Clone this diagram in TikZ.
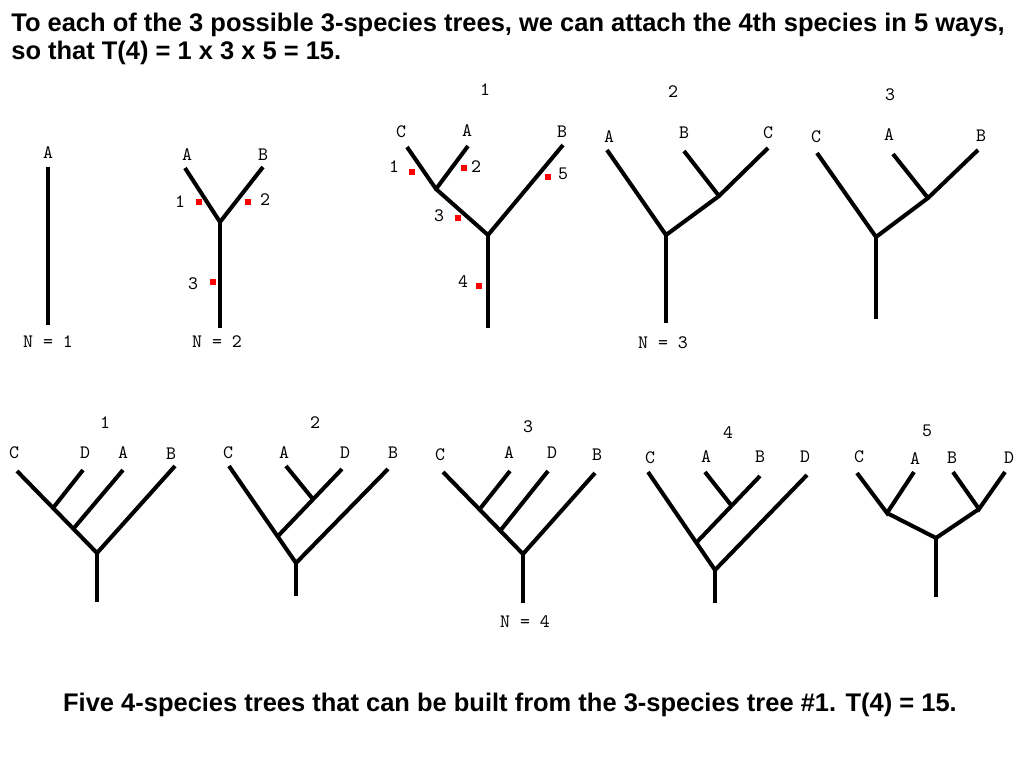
\documentclass[tikz,border=0pt]{standalone}
\usepackage{fontspec}
\setmainfont{Liberation Sans}
\usetikzlibrary{positioning}

\begin{document}
\begin{tikzpicture}[
  x=0.02cm, y=-0.02cm,
  branch/.style={line width=2.3pt},
  taxon/.style={font=\ttfamily\fontsize{10.8}{12}\selectfont, inner sep=0pt},
  spot/.style={fill=red, inner sep=0pt, minimum size=0.12cm},
  headline/.style={font=\bfseries\fontsize{14.5}{15.6}\selectfont, align=left, inner sep=0pt}
]
\useasboundingbox (0,0) rectangle (1024,768);

% heading and caption
\node[headline, anchor=north west] (head) at (11,13)
  {To each of the 3 possible 3-species trees, we can attach the 4th species in 5 ways,\\so that T(4) = 1 x 3 x 5 = 15.};
\node[headline] (foot) at (510,705)
  {Five 4-species trees that can be built from the 3-species tree \#1. T(4) = 15.};

% N = 1
\coordinate (a-A) at (48,167);
\coordinate (a-bot) at (48,325);
\node[taxon] (a-lA) at (48,153) {A};
\node[taxon] (a-n) at (48,342) {N = 1};
\draw[branch] (a-A) -- (a-bot);

% N = 2
\coordinate (b-A) at (185,168);
\coordinate (b-B) at (263,167);
\coordinate (b-root) at (220,222);
\coordinate (b-bot) at (220,328);
\node[taxon] (b-lA) at (187,155) {A};
\node[taxon] (b-lB) at (263,155) {B};
\node[taxon] (b-n) at (217,342) {N = 2};
\draw[branch] (b-A) -- (b-root) -- (b-B);
\draw[branch] (b-root) -- (b-bot);
\node[spot] (b-s1) at (199,202) {};
\node[spot] (b-s2) at (248,202) {};
\node[spot] (b-s3) at (213,282) {};
\node[taxon] (b-t1) at (180,202) {1};
\node[taxon] (b-t2) at (265,200) {2};
\node[taxon] (b-t3) at (193,284) {3};

% three-species tree 1
\node[taxon] (c-num) at (485,90) {1};
\coordinate (c-C) at (407,147);
\coordinate (c-A) at (468,146);
\coordinate (c-B) at (563,145);
\coordinate (c-j) at (436,189);
\coordinate (c-root) at (488,235);
\coordinate (c-bot) at (488,328);
\node[taxon] (c-lC) at (401,132) {C};
\node[taxon] (c-lA) at (467,131) {A};
\node[taxon] (c-lB) at (562,132) {B};
\draw[branch] (c-C) -- (c-j) -- (c-root) -- (c-B);
\draw[branch] (c-A) -- (c-j);
\draw[branch] (c-root) -- (c-bot);
\node[spot] (c-s1) at (412,172) {};
\node[spot] (c-s2) at (464,168) {};
\node[spot] (c-s3) at (458,218) {};
\node[spot] (c-s4) at (479,286) {};
\node[spot] (c-s5) at (548,177) {};
\node[taxon] (c-t1) at (394,167) {1};
\node[taxon] (c-t2) at (476,167) {2};
\node[taxon] (c-t3) at (439,216) {3};
\node[taxon] (c-t4) at (463,282) {4};
\node[taxon] (c-t5) at (563,174) {5};

% three-species tree 2
\node[taxon] (d-num) at (673,92) {2};
\coordinate (d-A) at (607,150);
\coordinate (d-B) at (684,151);
\coordinate (d-C) at (768,148);
\coordinate (d-j) at (719,196);
\coordinate (d-root) at (666,235);
\coordinate (d-bot) at (666,323);
\node[taxon] (d-lA) at (609,137) {A};
\node[taxon] (d-lB) at (684,133) {B};
\node[taxon] (d-lC) at (768,133) {C};
\node[taxon] (d-n) at (663,343) {N = 3};
\draw[branch] (d-A) -- (d-root) -- (d-j) -- (d-C);
\draw[branch] (d-B) -- (d-j);
\draw[branch] (d-root) -- (d-bot);

% three-species tree 3
\node[taxon] (e-num) at (890,95) {3};
\coordinate (e-C) at (817,153);
\coordinate (e-A) at (893,154);
\coordinate (e-B) at (978,150);
\coordinate (e-j) at (928,198);
\coordinate (e-root) at (876,237);
\coordinate (e-bot) at (876,319);
\node[taxon] (e-lC) at (816,137) {C};
\node[taxon] (e-lA) at (889,135) {A};
\node[taxon] (e-lB) at (981,136) {B};
\draw[branch] (e-C) -- (e-root) -- (e-j) -- (e-B);
\draw[branch] (e-A) -- (e-j);
\draw[branch] (e-root) -- (e-bot);

% four-species tree 1
\node[taxon] (f-num) at (105,423) {1};
\coordinate (f-C) at (17,471);
\coordinate (f-D) at (83,470);
\coordinate (f-A) at (123,470);
\coordinate (f-B) at (175,466);
\coordinate (f-j1) at (53,508);
\coordinate (f-j2) at (74,528);
\coordinate (f-root) at (97,553);
\coordinate (f-bot) at (97,602);
\node[taxon] (f-lC) at (14,453) {C};
\node[taxon] (f-lD) at (85,453) {D};
\node[taxon] (f-lA) at (123,453) {A};
\node[taxon] (f-lB) at (171,454) {B};
\draw[branch] (f-C) -- (f-root) -- (f-B);
\draw[branch] (f-D) -- (f-j1);
\draw[branch] (f-A) -- (f-j2);
\draw[branch] (f-root) -- (f-bot);

% four-species tree 2
\node[taxon] (g-num) at (315,423) {2};
\coordinate (g-C) at (229,466);
\coordinate (g-A) at (286,466);
\coordinate (g-D) at (342,469);
\coordinate (g-B) at (388,469);
\coordinate (g-j1) at (312,498);
\coordinate (g-j2) at (278,536);
\coordinate (g-root) at (296,563);
\coordinate (g-bot) at (296,596);
\node[taxon] (g-lC) at (228,453) {C};
\node[taxon] (g-lA) at (284,453) {A};
\node[taxon] (g-lD) at (345,453) {D};
\node[taxon] (g-lB) at (393,453) {B};
\draw[branch] (g-C) -- (g-root) -- (g-B);
\draw[branch] (g-D) -- (g-j2);
\draw[branch] (g-A) -- (g-j1);
\draw[branch] (g-root) -- (g-bot);

% four-species tree 3
\node[taxon] (h-num) at (528,427) {3};
\coordinate (h-C) at (443,472);
\coordinate (h-A) at (510,471);
\coordinate (h-D) at (548,471);
\coordinate (h-B) at (595,473);
\coordinate (h-j1) at (479,510);
\coordinate (h-j2) at (500,531);
\coordinate (h-root) at (523,554);
\coordinate (h-bot) at (523,603);
\node[taxon] (h-lC) at (440,455) {C};
\node[taxon] (h-lA) at (509,453) {A};
\node[taxon] (h-lD) at (552,453) {D};
\node[taxon] (h-lB) at (597,455) {B};
\node[taxon] (h-n) at (525,622) {N = 4};
\draw[branch] (h-C) -- (h-root) -- (h-B);
\draw[branch] (h-A) -- (h-j1);
\draw[branch] (h-D) -- (h-j2);
\draw[branch] (h-root) -- (h-bot);

% four-species tree 4
\node[taxon] (k-num) at (728,433) {4};
\coordinate (k-C) at (648,472);
\coordinate (k-A) at (705,472);
\coordinate (k-B) at (760,476);
\coordinate (k-D) at (807,475);
\coordinate (k-j1) at (731,505);
\coordinate (k-j2) at (696,543);
\coordinate (k-root) at (715,570);
\coordinate (k-bot) at (715,603);
\node[taxon] (k-lC) at (650,458) {C};
\node[taxon] (k-lA) at (706,457) {A};
\node[taxon] (k-lB) at (760,457) {B};
\node[taxon] (k-lD) at (805,457) {D};
\draw[branch] (k-C) -- (k-root) -- (k-D);
\draw[branch] (k-B) -- (k-j2);
\draw[branch] (k-A) -- (k-j1);
\draw[branch] (k-root) -- (k-bot);

% four-species tree 5
\node[taxon] (m-num) at (927,431) {5};
\coordinate (m-C) at (857,473);
\coordinate (m-A) at (914,472);
\coordinate (m-B) at (953,472);
\coordinate (m-D) at (1005,472);
\coordinate (m-j1) at (887,513);
\coordinate (m-j2) at (979,509);
\coordinate (m-root) at (936,538);
\coordinate (m-bot) at (936,597);
\node[taxon] (m-lC) at (859,457) {C};
\node[taxon] (m-lA) at (915,459) {A};
\node[taxon] (m-lB) at (952,458) {B};
\node[taxon] (m-lD) at (1009,458) {D};
\draw[branch] (m-C) -- (m-j1) -- (m-A);
\draw[branch] (m-B) -- (m-j2) -- (m-D);
\draw[branch] (m-j1) -- (m-root) -- (m-j2);
\draw[branch] (m-root) -- (m-bot);

\end{tikzpicture}
\end{document}
